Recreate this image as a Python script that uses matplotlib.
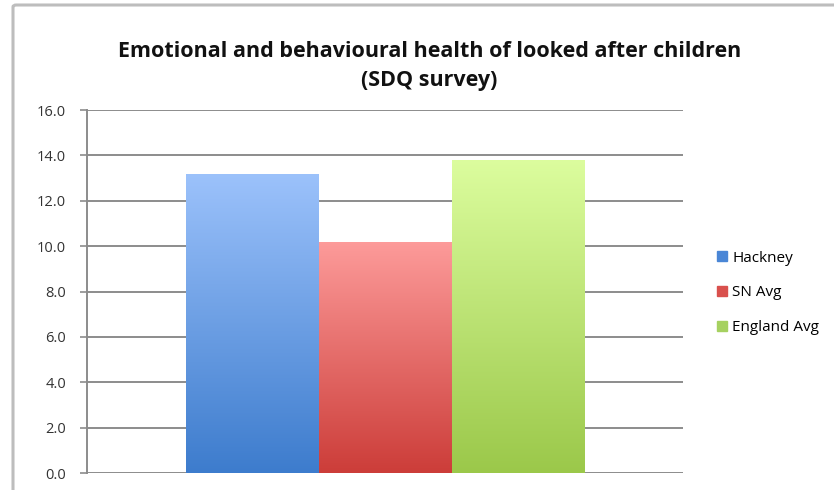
#!/usr/bin/env python3
"""
Bar chart of SDQ scores for looked after children:
Hackney against statistical neighbours and England average.
"""

import numpy as np
import matplotlib
matplotlib.use('Agg')
import matplotlib.pyplot as plt
from matplotlib.colors import LinearSegmentedColormap
from matplotlib.patches import FancyBboxPatch

# Chart data
series = ['Hackney', 'SN Avg', 'England Avg']
values = [13.2, 10.2, 13.8]
y_ticks = [0, 2, 4, 6, 8, 10, 12, 14, 16]

# top / bottom colours of each bar's gradient
bar_top = ['#9cc2fb', '#fd9b9a', '#dcfd9e']
bar_bottom = ['#3d7ccd', '#cc3d39', '#9bc84a']
legend_col = ['#4a86d6', '#d9504d', '#a6d160']

plt.rcParams['font.family'] = ['Open Sans', 'DejaVu Sans']

fig = plt.figure(figsize=(8.34, 4.90), dpi=100)

# outer chart frame
frame = FancyBboxPatch((13 / 834, -0.05), 0.99, 1.0 - 5 / 490 + 0.05,
                       boxstyle='round,pad=0,rounding_size=0.004',
                       transform=fig.transFigure, facecolor='white',
                       edgecolor='#bdbdbd', linewidth=2.2, zorder=-5)
fig.patches.append(frame)

ax = fig.add_axes([87 / 834, 17 / 490, 596 / 834, 363 / 490])
ax.set_facecolor('none')

width = 133 / 596 * 1.0
x0 = 0.5 - 1.5 * width
for i, (name, v) in enumerate(zip(series, values)):
    left = x0 + i * width
    bar = ax.bar(left, v, width=width, align='edge', color=legend_col[i],
                 edgecolor='none', label=name, zorder=2)[0]
    # vertical gradient fill clipped to the bar
    cmap = LinearSegmentedColormap.from_list(name, [bar_bottom[i], bar_top[i]])
    grad = np.linspace(0, 1, 256).reshape(-1, 1)
    im = ax.imshow(grad, cmap=cmap, aspect='auto', origin='lower',
                   extent=[left, left + width, 0, v], zorder=3)
    im.set_clip_path(bar)

ax.set_xlim(0, 1)
ax.set_ylim(0, 16)
ax.set_yticks(y_ticks)
ax.set_yticklabels([f'{t:.1f}' for t in y_ticks], fontsize=10.5, color='#333333')
ax.set_xticks([])
ax.yaxis.grid(True, color='#8c8c8c', linewidth=1.4, zorder=1)
ax.set_axisbelow(True)
ax.tick_params(axis='y', length=5, width=1.2, color='#8c8c8c', pad=10)
for s in ['top', 'right', 'bottom']:
    ax.spines[s].set_visible(False)
ax.spines['left'].set_color('#8c8c8c')
ax.spines['left'].set_linewidth(1.4)

fig.text(0.515, 1 - 66 / 490, 'Emotional and behavioural health of looked after children\n(SDQ survey)',
         ha='center', va='center', fontsize=15.5, fontweight='bold',
         linespacing=1.45, color='#111111')

handles = [plt.Rectangle((0, 0), 1, 1, color=c) for c in legend_col]
fig.legend(handles, series, loc='center left', bbox_to_anchor=(703 / 834, 1 - 293 / 490),
           frameon=False, fontsize=11, handlelength=0.65, handleheight=0.65,
           handletextpad=0.35, labelspacing=1.3)

plt.savefig('out.png', dpi=100)
plt.close()
